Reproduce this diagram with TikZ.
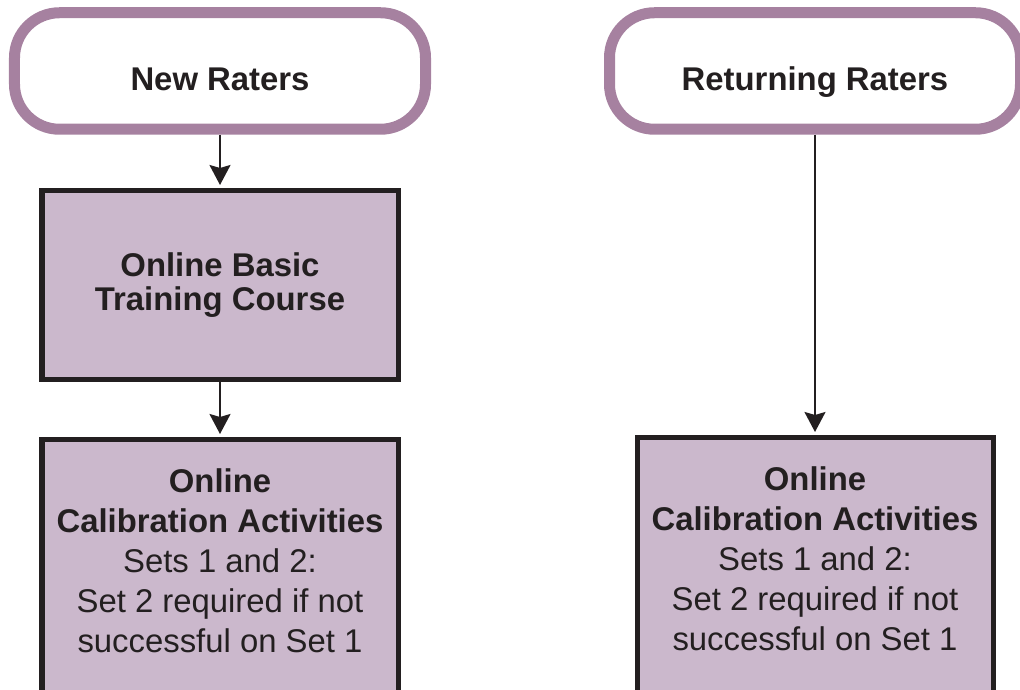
\documentclass[tikz,border=0pt]{standalone}
\usepackage{fontspec}
\setmainfont{Liberation Sans}
\usetikzlibrary{arrows.meta}
\definecolor{raterpurple}{RGB}{166,129,160}
\definecolor{courselilac}{RGB}{203,184,204}
\definecolor{inkblack}{RGB}{35,31,32}

\begin{document}
\begin{tikzpicture}[
  start/.style={draw=raterpurple,line width=0.22cm,rounded corners=0.9cm,minimum width=8.22cm,minimum height=2.33cm,text height=0.8cm,text depth=0cm,text=inkblack,font=\bfseries\fontsize{18.7}{22.7}\selectfont},
  course/.style={draw=inkblack,fill=courselilac,line width=0.1cm,inner sep=0pt,minimum width=7.12cm,align=center,text=inkblack,font=\fontsize{18.7}{22.7}\selectfont},
  flow/.style={draw=inkblack,line width=0.04cm,-{Stealth[length=0.4cm,width=0.42cm,inset=0.06cm]},shorten >=0.06cm}]
\useasboundingbox (0,0) rectangle (20.4,13.8);
\node[start] (new) at (4.40,12.38) {New Raters};
\node[start] (ret) at (16.30,12.38) {Returning Raters};
\node[course,minimum height=3.78cm,font=\bfseries\fontsize{18.7}{19.8}\selectfont] (basic) at (4.40,8.10) {Online Basic\\Training Course};
\node[course,anchor=north,inner ysep=0.59cm,text depth=1cm] (calL) at (4.40,5.06) {\textbf{Online}\\\textbf{Calibration Activities}\\Sets 1 and 2:\\Set 2 required if not\\successful on Set 1};
\node[course,anchor=north,inner ysep=0.59cm,text depth=1cm] (calR) at (16.30,5.10) {\textbf{Online}\\\textbf{Calibration Activities}\\Sets 1 and 2:\\Set 2 required if not\\successful on Set 1};
\draw[flow] (new) -- (basic);
\draw[flow] (basic) -- (calL);
\draw[flow] (ret) -- (calR);
\end{tikzpicture}
\end{document}
